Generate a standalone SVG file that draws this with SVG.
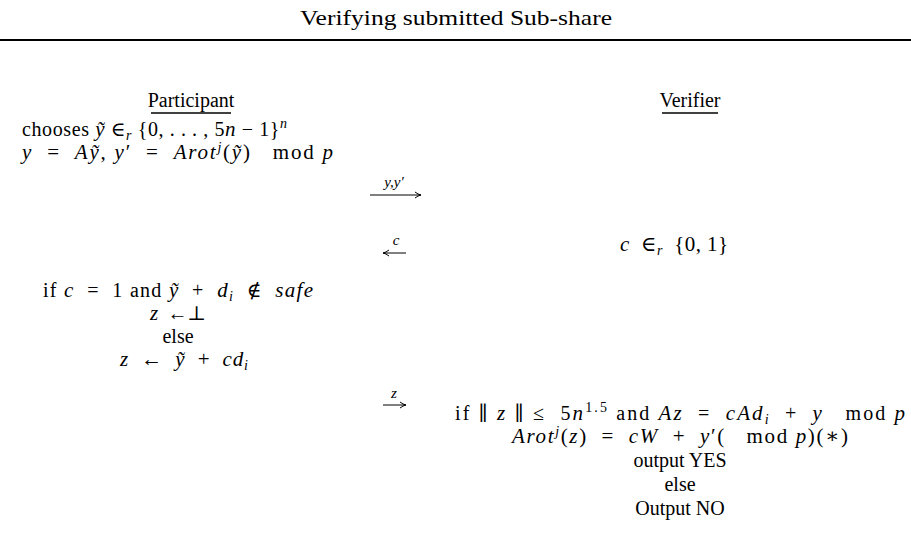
<svg xmlns="http://www.w3.org/2000/svg" width="911" height="534" viewBox="0 0 911 534">
<style>
text{font-family:"Liberation Serif","DejaVu Serif",serif;font-size:20px;fill:#000;white-space:pre}
.c{text-anchor:middle}
.i{font-style:italic}
.m{font-size:21px}
.s{font-size:14px}
.t{font-size:22px}
.lbl{font-family:"Liberation Serif","DejaVu Serif",serif;font-size:15px;font-style:italic;text-anchor:middle}
.ar{stroke:#000;stroke-width:1;fill:none}
</style>
<defs>
<marker id="ah" markerWidth="8" markerHeight="8" refX="7" refY="4" orient="auto" markerUnits="userSpaceOnUse">
<path d="M1,1 Q4,3.4 7,4 Q4,4.6 1,7" fill="none" stroke="#000" stroke-width="1"/>
</marker>
</defs>
<rect width="911" height="534" fill="#fff"/>
<g id="header">
<text class="t" x="300" y="25" textLength="312" lengthAdjust="spacingAndGlyphs">Verifying submitted Sub-share</text>
<line x1="0" y1="40" x2="911" y2="40" stroke="#000" stroke-width="2"/>
</g>
<g id="participant">
<text class="c" x="191" y="107">Participant</text>
<line x1="151" y1="113" x2="231" y2="113" stroke="#000" stroke-width="1.5"/>
<text x="22" y="136" textLength="265" lengthAdjust="spacing">chooses <tspan class="i m">ỹ</tspan> ∈<tspan class="i s" dy="4">r</tspan><tspan dy="-4"> {0, . . . , 5</tspan><tspan class="i m">n</tspan> − 1}<tspan class="i s" dy="-8">n</tspan></text>
<text class="m" x="22" y="159" textLength="311" lengthAdjust="spacing"><tspan class="i">y</tspan>  =  <tspan class="i">Aỹ</tspan>, <tspan class="i">y</tspan>′  =  <tspan class="i">Arot</tspan><tspan class="i s" dy="-7">j</tspan><tspan dy="7">(</tspan><tspan class="i">ỹ</tspan>)   mod <tspan class="i">p</tspan></text>
<text x="43" y="297" textLength="270" lengthAdjust="spacing">if <tspan class="i m">c</tspan>  =  1 and <tspan class="i m">ỹ</tspan>  +  <tspan class="i m">d</tspan><tspan class="i s" dy="4">i</tspan><tspan dy="-4">  ∉  </tspan><tspan class="i m">safe</tspan></text>
<text x="150" y="320" textLength="56" lengthAdjust="spacing"><tspan class="i m">z</tspan>  ←⊥</text>
<text class="c" x="178" y="343">else</text>
<text class="m" x="120" y="366" textLength="128" lengthAdjust="spacing"><tspan class="i">z</tspan>  ←  <tspan class="i">ỹ</tspan>  +  <tspan class="i">cd</tspan><tspan class="i s" dy="4">i</tspan></text>
</g>
<g id="verifier">
<text class="c" x="690" y="107">Verifier</text>
<line x1="662" y1="113" x2="718" y2="113" stroke="#000" stroke-width="1.5"/>
<text class="m" x="620" y="251" textLength="108" lengthAdjust="spacing"><tspan class="i">c</tspan>  ∈<tspan class="i s" dy="4">r</tspan><tspan dy="-4">  {0, 1}</tspan></text>
<text x="455" y="420" textLength="450" lengthAdjust="spacing">if ∥ <tspan class="i m">z</tspan> ∥ ≤  5<tspan class="i m">n</tspan><tspan class="s" dy="-8">1.5</tspan><tspan dy="8"> and </tspan><tspan class="i m">Az</tspan>  =  <tspan class="i m">cAd</tspan><tspan class="i s" dy="4">i</tspan><tspan dy="-4">  +  </tspan><tspan class="i m">y</tspan>   mod <tspan class="i m">p</tspan></text>
<text class="m" x="512" y="443" textLength="336" lengthAdjust="spacing"><tspan class="i">Arot</tspan><tspan class="i s" dy="-7">j</tspan><tspan dy="7">(</tspan><tspan class="i">z</tspan>)  =  <tspan class="i">cW</tspan>  +  <tspan class="i">y</tspan>′(   mod <tspan class="i">p</tspan>)(∗)</text>
<text class="c" x="680" y="467">output YES</text>
<text class="c" x="680" y="491">else</text>
<text class="c" x="680" y="515">Output NO</text>
</g>
<g id="connectors">
<line class="ar" x1="370" y1="195" x2="421" y2="195" marker-end="url(#ah)"/>
<text class="lbl" x="394" y="187">y,y′</text>
<line class="ar" x1="406" y1="253" x2="383" y2="253" marker-end="url(#ah)"/>
<text class="lbl" x="396" y="245">c</text>
<line class="ar" x1="383" y1="405" x2="406" y2="405" marker-end="url(#ah)"/>
<text class="lbl" x="394" y="398">z</text>
</g>
</svg>
